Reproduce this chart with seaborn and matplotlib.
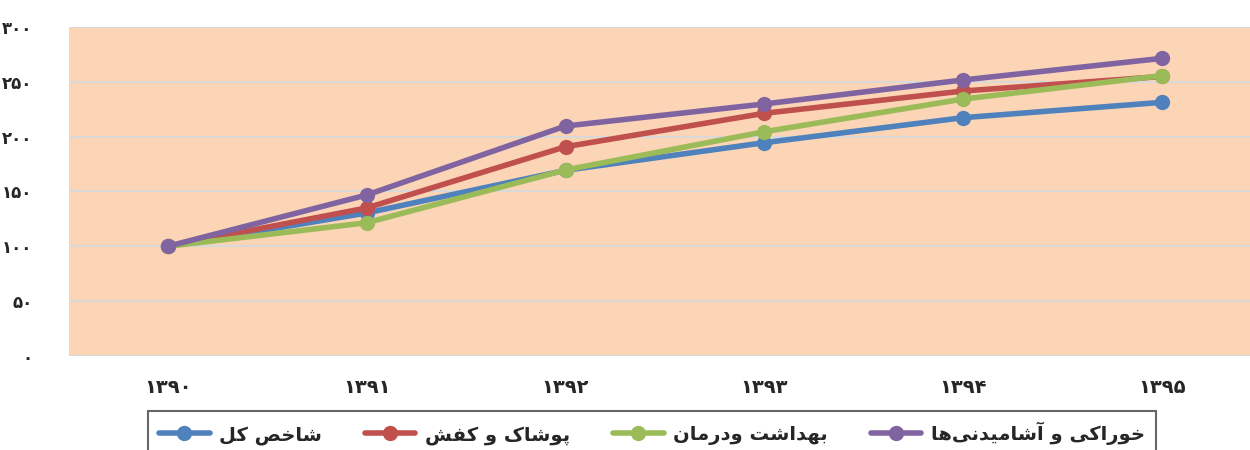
import pandas as pd
import numpy as np
import matplotlib.pyplot as plt
import seaborn as sns

# data
years = [1390, 1391, 1392, 1393, 1394, 1395]
year_labels = ["۱۳۹۰", "۱۳۹۱", "۱۳۹۲", "۱۳۹۳", "۱۳۹۴", "۱۳۹۵"]
y_ticks = [0, 50, 100, 150, 200, 250, 300]
y_labels = ["۰", "۵۰", "۱۰۰", "۱۵۰", "۲۰۰", "۲۵۰", "۳۰۰"]

total = [100, 130.4, 169.3, 194.5, 217.3, 231.3]
clothing = [100, 135.0, 190.8, 221.3, 241.6, 254.9]
health = [100, 121.5, 169.6, 204.5, 234.3, 255.6]
food = [100, 146.8, 209.7, 229.8, 251.7, 271.4]

series_names = ["شاخص کل", "پوشاک و کفش", "بهداشت ودرمان", "خوراکی و آشامیدنی‌ها"]
colors = ["#4F81BD", "#C0504D", "#9BBB59", "#8064A2"]

# tiny Persian shaper: (isolated, final, initial, medial)
FORMS = {
    "ا": (0xFE8D, 0xFE8E, None, None),
    "آ": (0xFE81, 0xFE82, None, None),
    "ب": (0xFE8F, 0xFE90, 0xFE91, 0xFE92),
    "پ": (0xFB56, 0xFB57, 0xFB58, 0xFB59),
    "ت": (0xFE95, 0xFE96, 0xFE97, 0xFE98),
    "خ": (0xFEA5, 0xFEA6, 0xFEA7, 0xFEA8),
    "د": (0xFEA9, 0xFEAA, None, None),
    "ر": (0xFEAD, 0xFEAE, None, None),
    "ش": (0xFEB5, 0xFEB6, 0xFEB7, 0xFEB8),
    "ص": (0xFEB9, 0xFEBA, 0xFEBB, 0xFEBC),
    "ف": (0xFED1, 0xFED2, 0xFED3, 0xFED4),
    "ک": (0xFB8E, 0xFB8F, 0xFB90, 0xFB91),
    "ل": (0xFEDD, 0xFEDE, 0xFEDF, 0xFEE0),
    "م": (0xFEE1, 0xFEE2, 0xFEE3, 0xFEE4),
    "ن": (0xFEE5, 0xFEE6, 0xFEE7, 0xFEE8),
    "ه": (0xFEE9, 0xFEEA, 0xFEEB, 0xFEEC),
    "و": (0xFEED, 0xFEEE, None, None),
    "ی": (0xFBFC, 0xFBFD, 0xFBFE, 0xFBFF),
}


def shape(text):
    out = []
    for i, ch in enumerate(text):
        if ch not in FORMS:
            if ch != "\u200c":
                out.append(ch)
            continue
        prev = text[i - 1] if i > 0 else ""
        nxt = text[i + 1] if i + 1 < len(text) else ""
        joins_prev = prev in FORMS and FORMS[prev][2] is not None
        joins_next = nxt in FORMS and FORMS[ch][2] is not None
        iso, fin, ini, med = FORMS[ch]
        if joins_prev and joins_next:
            out.append(chr(med))
        elif joins_prev:
            out.append(chr(fin))
        elif joins_next:
            out.append(chr(ini))
        else:
            out.append(chr(iso))
    return "".join(out[::-1])


rows = []
for name, vals in zip(series_names, [total, clothing, health, food]):
    for yr, v in zip(years, vals):
        rows.append({"year": yr, "value": v, "series": shape(name)})
df = pd.DataFrame(rows)

sns.set_style("white")
plt.rcParams["font.family"] = ["DejaVu Sans"]

fig = plt.figure(figsize=(12.5, 4.5), dpi=100)
ax = fig.add_axes([0.0548, 0.209, 0.9452, 0.731])
ax.set_facecolor("#FBD5B5")

sns.lineplot(data=df, x="year", y="value", hue="series",
             palette=colors, marker="o", markersize=11, linewidth=4,
             markeredgewidth=0, ax=ax, legend=True)

ax.set_xlim(1389.5, 1395.443)
ax.set_ylim(0, 300)
ax.set_xticks(years)
ax.set_xticklabels(year_labels, fontsize=14, fontweight="bold")
ax.set_yticks(y_ticks)
ax.set_yticklabels(y_labels, fontsize=12, fontweight="bold")
ax.tick_params(axis="x", pad=16, length=0)
ax.tick_params(axis="y", pad=26, length=0)
ax.yaxis.grid(True, color="#D9D9D9", linewidth=1.5)
ax.set_axisbelow(True)
ax.set_xlabel("")
ax.set_ylabel("")
for s in ax.spines.values():
    s.set_visible(False)

leg = ax.legend(loc="upper center", bbox_to_anchor=(652 / 1250, 1 - 411 / 450),
                bbox_transform=fig.transFigure, ncol=4, frameon=True,
                fancybox=False, handlelength=2.6, handletextpad=0.5,
                columnspacing=2.2, prop={"size": 14, "weight": "bold"},
                borderpad=0.55, borderaxespad=0)
leg.get_frame().set_edgecolor("#404040")
leg.get_frame().set_linewidth(1.5)

fig.savefig("out.png", dpi=100)
